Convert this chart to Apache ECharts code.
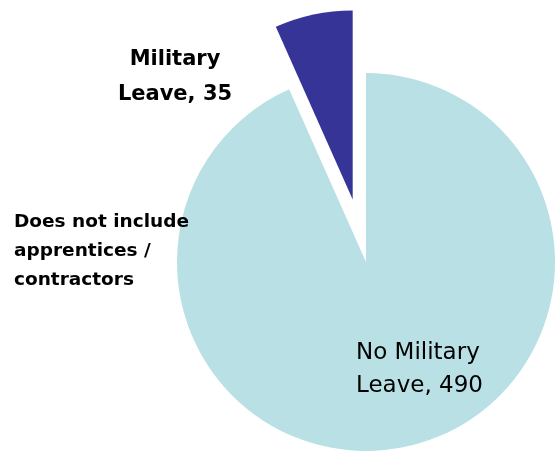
<!DOCTYPE html>
<html>
<head>
<meta charset="utf-8">
<script src="https://cdn.jsdelivr.net/npm/echarts@6/dist/echarts.min.js"></script>
<style>
  html, body { margin: 0; padding: 0; background: #ffffff; }
  #chart { width: 555px; height: 457px; }
</style>
</head>
<body>
<div id="chart"></div>
<script>
// slices, clockwise from 12 o'clock
const names = ['No Military Leave', 'Military Leave'];
const values = [490, 35];
const colors = ['#b9e0e4', '#363496'];
const note = 'Does not include\napprentices /\ncontractors';

function labelText(i) {
    return names[i].replace(' Leave', '\nLeave') + ', ' + values[i];
}

const chart = echarts.init(document.getElementById('chart'), null, { renderer: 'canvas' });

chart.setOption({
    backgroundColor: '#ffffff',
    animation: false,
    series: [{
        type: 'pie',
        center: [366, 262],
        radius: 189,
        startAngle: 90,
        clockwise: true,
        selectedMode: 'single',
        selectedOffset: 64,
        label: { show: false },
        labelLine: { show: false },
        emphasis: { disabled: true },
        data: names.map((n, i) => ({
            name: n,
            value: values[i],
            selected: i === 1,
            itemStyle: { color: colors[i] }
        }))
    }],
    graphic: [{
        type: 'text',
        x: 175,
        y: 42,
        z: 10,
        style: {
            text: labelText(1),
            font: 'bold 21px "DejaVu Sans"',
            lineHeight: 35,
            fill: '#000000',
            align: 'center',
            verticalAlign: 'top'
        }
    }, {
        type: 'text',
        x: 356,
        y: 337,
        z: 10,
        style: {
            text: labelText(0),
            font: '23px "DejaVu Sans"',
            lineHeight: 33,
            fill: '#000000',
            align: 'left',
            verticalAlign: 'top'
        }
    }, {
        type: 'text',
        x: 14,
        y: 208,
        z: 10,
        style: {
            text: note,
            font: 'bold 18.5px "DejaVu Sans"',
            lineHeight: 29,
            fill: '#000000',
            align: 'left',
            verticalAlign: 'top'
        }
    }]
});
</script>
</body>
</html>
